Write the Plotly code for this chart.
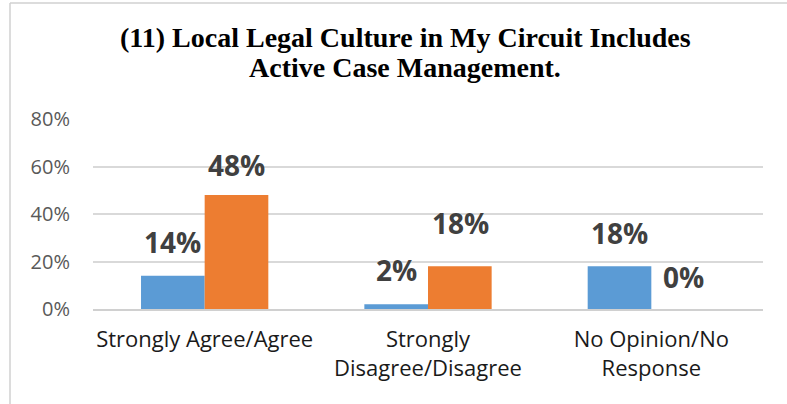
import plotly.graph_objects as go

categories = ["Strongly Agree/Agree", "Strongly<br>Disagree/Disagree", "No Opinion/No<br>Response"]
series_a = [14, 2, 18]   # blue series (%)
series_b = [48, 18, 0]   # orange series (%)
tick_vals = [0, 20, 40, 60, 80]
tick_text = ["0%", "20%", "40%", "60%", "80%"]
title_lines = ["(11) Local Legal Culture in My Circuit Includes", "Active Case Management."]

BLUE = "#5B9BD5"
ORANGE = "#ED7D31"
LABEL_COLOR = "#404040"

fig = go.Figure()
fig.add_trace(go.Bar(x=categories, y=series_a, marker=dict(color=BLUE, line=dict(width=0)),
                     showlegend=False, hoverinfo="skip"))
fig.add_trace(go.Bar(x=categories, y=series_b, marker=dict(color=ORANGE, line=dict(width=0)),
                     showlegend=False, hoverinfo="skip"))

W, H = 787, 404
ml, mr, mt, mb = 93, 24, 119, 95
pw, ph = W - ml - mr, H - mt - mb

def px_to_paper_x(px):
    return (px - ml) / pw

def px_to_paper_y(py):
    return (H - mb - py) / ph

# data labels above bars
a_offsets = [34, 34, 33]
b_offsets = [30, 43, 32]
annotations = []
for cat, v, off in zip(categories, series_a, a_offsets):
    annotations.append(dict(x=cat, y=v, xref="x", yref="y", text=f"{v}%", showarrow=False,
                            xshift=-32, yshift=off, yanchor="middle",
                            font=dict(family="Open Sans", size=28, color=LABEL_COLOR, weight="bold")))
for cat, v, off in zip(categories, series_b, b_offsets):
    annotations.append(dict(x=cat, y=v, xref="x", yref="y", text=f"{v}%", showarrow=False,
                            xshift=32, yshift=off, yanchor="middle",
                            font=dict(family="Open Sans", size=28, color=LABEL_COLOR, weight="bold")))

# title as two lines
for line, ypx in zip(title_lines, [37, 67]):
    annotations.append(dict(x=px_to_paper_x(405), y=px_to_paper_y(ypx), xref="paper", yref="paper",
                            text=f"<b>{line}</b>", showarrow=False, xanchor="center", yanchor="middle",
                            font=dict(family="Liberation Serif", size=28, color="black")))

shapes = [
    dict(type="line", xref="paper", yref="paper",
         x0=px_to_paper_x(10), x1=px_to_paper_x(10), y0=px_to_paper_y(3), y1=px_to_paper_y(404),
         line=dict(color="#D0D0D0", width=1.5)),
    dict(type="line", xref="paper", yref="paper",
         x0=px_to_paper_x(10), x1=px_to_paper_x(787), y0=px_to_paper_y(3), y1=px_to_paper_y(3),
         line=dict(color="#D0D0D0", width=1.5)),
]

fig.update_layout(
    width=W, height=H,
    margin=dict(l=ml, r=mr, t=mt, b=mb, pad=0),
    paper_bgcolor="white", plot_bgcolor="white",
    barmode="group", bargap=0.43, bargroupgap=0,
    xaxis=dict(showgrid=False, showline=True, linecolor="#D0D0D0", linewidth=2,
               ticks="", tickfont=dict(family="Open Sans", size=22, color="#1a1a1a"),
               ticklabelstandoff=10),
    yaxis=dict(range=[0, 80], tickvals=tick_vals, ticktext=tick_text,
               showgrid=True, gridcolor="#D9D9D9", gridwidth=1.5, zeroline=False,
               showline=False, ticks="",
               tickfont=dict(family="Open Sans", size=20, color="#595959"),
               ticklabelstandoff=22),
    annotations=annotations,
    shapes=shapes,
)

fig.write_html("out.html", config={"displayModeBar": False},
               post_script="document.body.style.margin='0';")
